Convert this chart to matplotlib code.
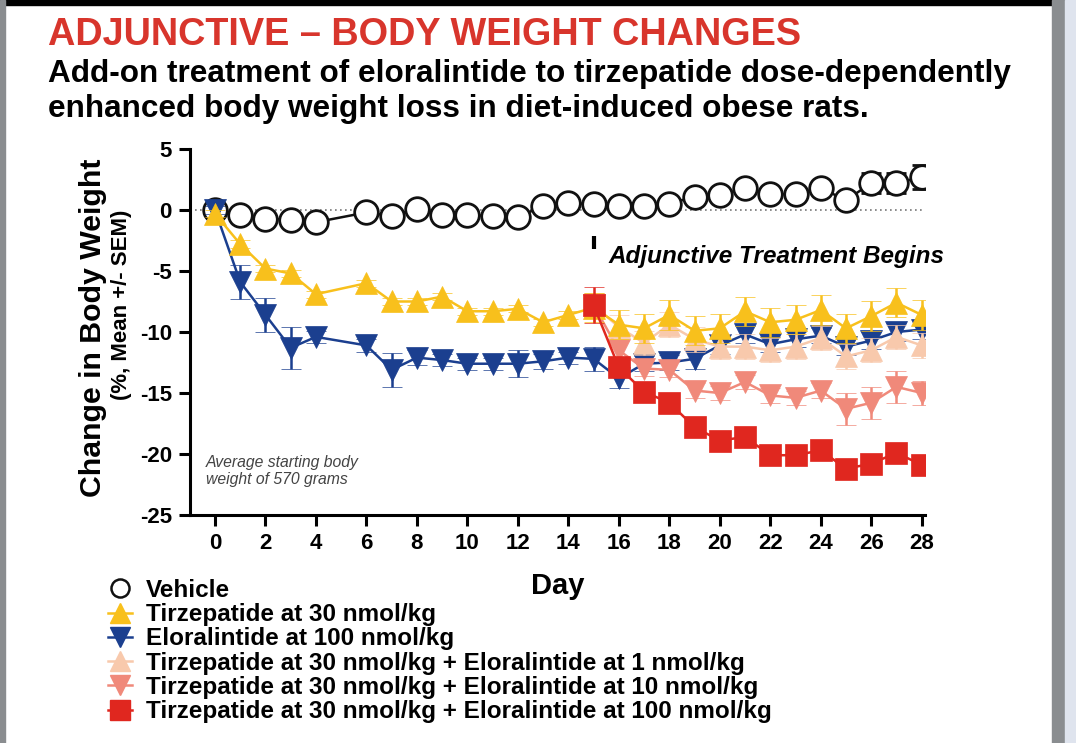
import matplotlib
matplotlib.use("Agg")
import matplotlib.pyplot as plt
from matplotlib.lines import Line2D
from matplotlib.patches import Rectangle

plt.rcParams["font.family"] = ["Liberation Sans", "DejaVu Sans"]
plt.rcParams["axes.unicode_minus"] = False

# days with measurements (no weighing on day 5)
days = [0, 1, 2, 3, 4] + list(range(6, 29))
combo_days = list(range(15, 29))

vehicle = [0.0, -0.4, -0.7, -0.8, -1.0, -0.2, -0.5, 0.1, -0.4, -0.4, -0.5, -0.6, 0.35, 0.55,
           0.5, 0.3, 0.3, 0.5, 1.1, 1.2, 1.8, 1.3, 1.3, 1.8, 0.8, 2.2, 2.2, 2.7]
vehicle_err = [0.2] * 25 + [0.8, 0.8, 1.0]

tirz = [-0.3, -2.8, -4.8, -5.2, -6.9, -6.0, -7.5, -7.5, -7.1, -8.3, -8.3, -8.1, -9.2, -8.6,
        -8.0, -9.4, -9.7, -8.6, -9.9, -9.7, -8.3, -9.2, -9.0, -8.2, -9.7, -8.7, -7.6, -8.6]
tirz_err = [0.3] * 14 + [1.2] * 14

elora = [0.0, -5.9, -8.6, -11.3, -10.4, -11.1, -13.1, -12.1, -12.3, -12.6, -12.6, -12.6, -12.4, -12.1,
         -12.2, -13.8, -12.6, -12.5, -12.2, -11.1, -10.2, -11.0, -10.6, -10.3, -11.2, -10.7, -10.0, -9.8]
elora_err = [0.3, 1.4, 1.4, 1.7, 0.5, 0.5, 1.4, 0.6, 0.5, 0.5, 0.5, 1.1, 0.6, 0.5,
             1.0, 0.8, 0.6, 0.6, 0.8, 0.7, 0.7, 0.6, 0.6, 0.6, 0.7, 0.7, 0.7, 0.8]

combo_1 = [-7.8, -9.6, -10.9, -9.4, -10.6, -11.2, -11.2, -11.5, -11.2, -10.5, -12.0, -11.5, -10.4, -11.1]
combo_1_err = [1.0] * 14
combo_10 = [-7.8, -11.5, -13.0, -13.1, -14.8, -15.0, -14.1, -15.2, -15.4, -14.8, -16.3, -15.8, -14.5, -15.0]
combo_10_err = [1.0, 0.8, 0.6, 0.6, 0.6, 0.6, 0.6, 0.6, 0.6, 0.6, 1.3, 1.3, 1.3, 1.0]
combo_100 = [-7.8, -12.9, -14.9, -15.8, -17.8, -18.9, -18.6, -20.1, -20.1, -19.7, -21.2, -20.8, -19.9, -20.9]
combo_100_err = [1.5] + [0.5] * 13

labels = [
    "Vehicle",
    "Tirzepatide at 30 nmol/kg",
    "Eloralintide at 100 nmol/kg",
    "Tirzepatide at 30 nmol/kg + Eloralintide at 1 nmol/kg",
    "Tirzepatide at 30 nmol/kg + Eloralintide at 10 nmol/kg",
    "Tirzepatide at 30 nmol/kg + Eloralintide at 100 nmol/kg",
]

c_black = "#111111"
c_yellow = "#f8c01c"
c_blue = "#1b3f8f"
c_peach = "#f8c9ac"
c_salmon = "#f0897a"
c_red = "#e0271f"

fig = plt.figure(figsize=(10.76, 7.43), dpi=100)
fig.patch.set_facecolor("white")

# screenshot frame
fig.add_artist(Rectangle((0, 1 - 5 / 743), 1, 5 / 743, transform=fig.transFigure, color="black", zorder=0))
fig.add_artist(Rectangle((0, 0), 5 / 1076, 1, transform=fig.transFigure, color="#8a8d90", zorder=0))
fig.add_artist(Rectangle((1052 / 1076, 0), 13 / 1076, 1, transform=fig.transFigure, color="#8a8d90", zorder=0))
fig.add_artist(Rectangle((1065 / 1076, 0), 11 / 1076, 1, transform=fig.transFigure, color="#dfe4ee", zorder=0))

ax = fig.add_axes([190 / 1076, 1 - 515 / 743, 735 / 1076, (515 - 149) / 743])

ax.axhline(0, color="#777777", linestyle=(0, (1, 2)), linewidth=1.2, zorder=1)


def series(x, y, err, color, marker, ms, z, face=None):
    ax.errorbar(
        x, y, yerr=err,
        color=color, ecolor=color,
        marker=marker, markersize=ms,
        markerfacecolor=face if face else color,
        markeredgecolor=color,
        markeredgewidth=2.0 if face else 0.5,
        linewidth=1.8, elinewidth=1.8, capsize=7, capthick=1.8,
        zorder=z,
    )


series(days, vehicle, vehicle_err, c_black, "o", 17, 3, face="white")
series(days, elora, elora_err, c_blue, "v", 15.5, 4)
series(combo_days, combo_10, combo_10_err, c_salmon, "v", 15.5, 5)
series(combo_days, combo_1, combo_1_err, c_peach, "^", 15.5, 6)
series(days, tirz, tirz_err, c_yellow, "^", 15.5, 7)
series(combo_days, combo_100, combo_100_err, c_red, "s", 15.5, 8)

# start of adjunctive treatment
ax.vlines(15, -2.1, -3.2, color="black", linewidth=3, zorder=9)
ax.text(15.6, -3.85, "Adjunctive Treatment Begins", fontsize=17.5, fontweight="bold",
        fontstyle="italic", va="center", ha="left", zorder=9)
ax.text(-0.35, -21.4, "Average starting body\nweight of 570 grams", fontsize=11.3,
        fontstyle="italic", color="#444444", va="center", ha="left", linespacing=1.2)

ax.set_xlim(-0.99, 28.13)
ax.set_ylim(-25, 5)
ax.set_xticks(range(0, 29, 2))
ax.set_yticks(range(-25, 6, 5))
for s in ["top", "right"]:
    ax.spines[s].set_visible(False)
for s in ["left", "bottom"]:
    ax.spines[s].set_linewidth(2.2)
ax.tick_params(axis="both", direction="out", length=8, width=2.2, labelsize=16, pad=5)
for lab in ax.get_xticklabels() + ax.get_yticklabels():
    lab.set_fontweight("bold")
ax.set_xlabel("Day", fontsize=21, fontweight="bold", labelpad=13)

fig.text(93 / 1076, 1 - 328 / 743, "Change in Body Weight", rotation=90, fontsize=21.8,
         fontweight="bold", ha="center", va="center")
fig.text(121 / 1076, 1 - 305 / 743, "(%, Mean +/- SEM)", rotation=90, fontsize=16,
         fontweight="bold", ha="center", va="center")

# titles
fig.text(48 / 1076, 1 - 45 / 743, "ADJUNCTIVE \u2013 BODY WEIGHT CHANGES", fontsize=27.3,
         fontweight="bold", color="#d8352c", ha="left", va="baseline")
fig.text(48 / 1076, 1 - 82 / 743, "Add-on treatment of eloralintide to tirzepatide dose-dependently",
         fontsize=22.7, fontweight="bold", ha="left", va="baseline")
fig.text(48 / 1076, 1 - 117 / 743, "enhanced body weight loss in diet-induced obese rats.",
         fontsize=22.7, fontweight="bold", ha="left", va="baseline")

# legend
handles = [
    Line2D([], [], color=c_black, marker="o", markersize=13, markerfacecolor="white", markeredgewidth=1.8, linewidth=0),
    Line2D([], [], color=c_yellow, marker="^", markersize=14, linewidth=1.8),
    Line2D([], [], color=c_blue, marker="v", markersize=14, linewidth=1.8),
    Line2D([], [], color=c_peach, marker="^", markersize=14, linewidth=1.8),
    Line2D([], [], color=c_salmon, marker="v", markersize=14, linewidth=1.8),
    Line2D([], [], color=c_red, marker="s", markersize=14, linewidth=1.8),
]
leg = fig.legend(handles, labels, loc="upper left", bbox_to_anchor=(108 / 1076, 1 - 579 / 743),
                 frameon=False, fontsize=17.5, handlelength=1.0, handletextpad=0.55,
                 labelspacing=0.05, borderpad=0, borderaxespad=0)
for t in leg.get_texts():
    t.set_fontweight("bold")

fig.savefig("out.png", dpi=100)
